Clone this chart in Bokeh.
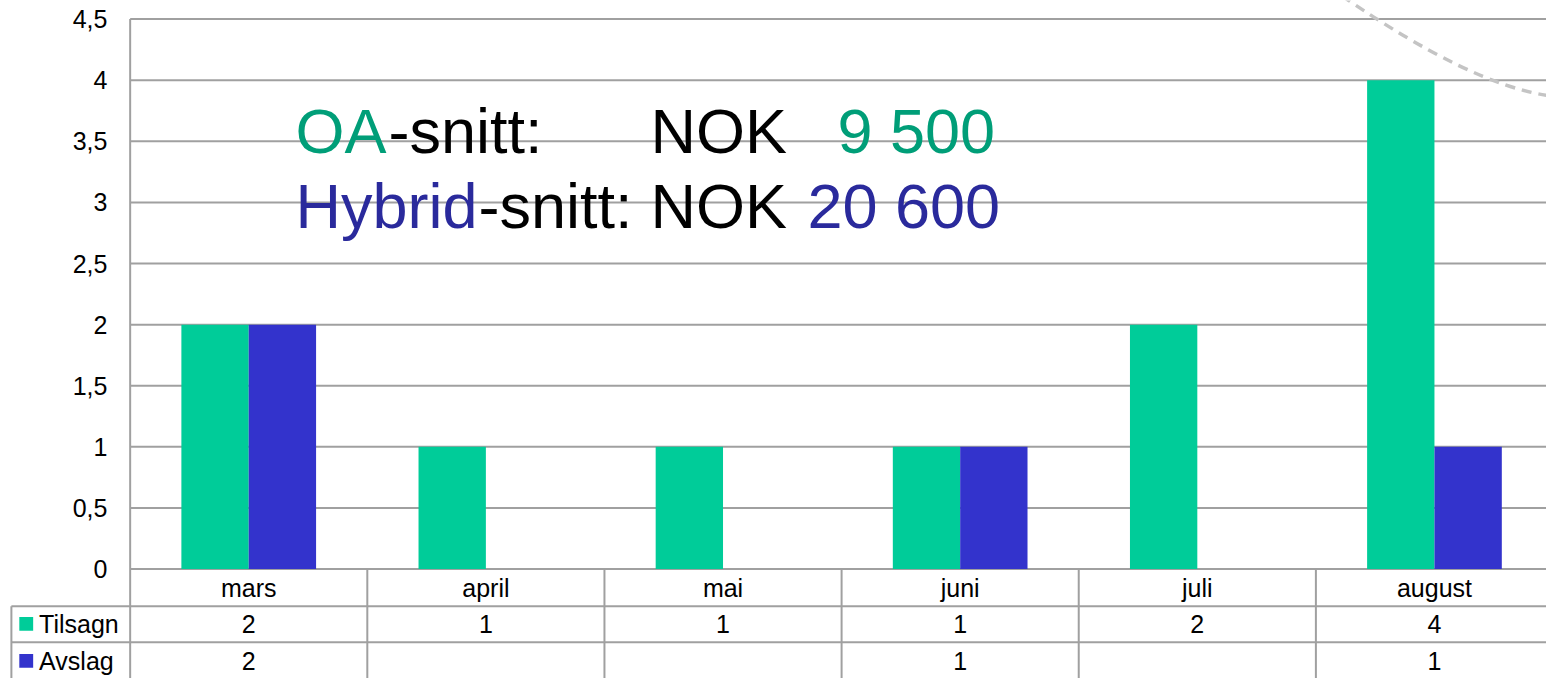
from bokeh.plotting import figure
from bokeh.models import ColumnDataSource, Label, Range1d
from bokeh.core.properties import value
from bokeh.embed import file_html
from bokeh.resources import INLINE

# ---- data ----
months = ["mars", "april", "mai", "juni", "juli", "august"]
tilsagn = [2, 1, 1, 1, 2, 4]
avslag = [2, None, None, 1, None, 1]
y_ticks = [0, 0.5, 1, 1.5, 2, 2.5, 3, 3.5, 4, 4.5]
y_tick_labels = ["0", "0,5", "1", "1,5", "2", "2,5", "3", "3,5", "4", "4,5"]
series_names = ["Tilsagn", "Avslag"]

GREEN = "#00CC99"
BLUE = "#3333CC"
TXT_GREEN = "#009E78"
TXT_BLUE = "#2A2A9C"
GRID = "#A0A0A0"
FONT = "Liberation Sans"
SMALL = "25px"

W, H = 1546, 678
SX = W / 1562
SY = H / 694

n = len(months)
centers = [i + 0.5 for i in range(n)]
bw = 0.284

PX_X = 239.6 * SX
PX_Y = (582 - 19) * SY / 4.5
x0_px = 131 * SX          # canvas x of category 0 edge
y0_px = 582 * SY          # canvas y of value 0


def cx(px):
    return (px * SX - x0_px) / PX_X


def cy(py):
    return (y0_px - py * SY) / PX_Y


x_start = -x0_px / PX_X
x_end = (W - x0_px) / PX_X
y_end = y0_px / PX_Y
y_start = y_end - H / PX_Y

p = figure(width=W, height=H, output_backend="svg", toolbar_location=None,
           x_range=Range1d(x_start, x_end), y_range=Range1d(y_start, y_end),
           x_axis_location=None, y_axis_location=None,
           min_border_left=0, min_border_right=0,
           min_border_top=0, min_border_bottom=0)
p.outline_line_color = None
p.grid.visible = False

# horizontal value grid
p.segment(x0=[0] * len(y_ticks), x1=[x_end] * len(y_ticks), y0=y_ticks, y1=y_ticks,
          line_color=GRID, line_width=2)
# y tick labels
p.text(x=[cx(108)] * len(y_ticks), y=y_ticks, text=y_tick_labels, text_align="right",
       text_baseline="middle", text_font=value(FONT), text_font_size=SMALL,
       text_color="black")

src = ColumnDataSource(dict(
    x=centers, months=months,
    avslag=[v if v is not None else float("nan") for v in avslag],
    t_lab=[str(v) for v in tilsagn],
    a_lab=[str(v) if v is not None else "" for v in avslag],
))

p.vbar(x=[c - bw / 2 for c in centers], top=tilsagn, width=bw, bottom=0,
       fill_color=GREEN, line_color=None)
p.vbar(x=[c + bw / 2 for c in centers], top=src.data["avslag"], width=bw, bottom=0,
       fill_color=BLUE, line_color=None)

# data table
row_cat = cy(601)
row_t = cy(638)
row_a = cy(676)
line_1 = cy(620)
line_2 = cy(657)
cell_left = cx(11)
p.segment(x0=[cell_left] * 2, x1=[x_end] * 2, y0=[line_1, line_2], y1=[line_1, line_2],
          line_color=GRID, line_width=2)
p.segment(x0=list(range(1, n + 1)), x1=list(range(1, n + 1)),
          y0=[0] * n, y1=[y_start] * n, line_color=GRID, line_width=2)
p.segment(x0=[0], x1=[0], y0=[4.5], y1=[y_start], line_color=GRID, line_width=2)
p.segment(x0=[cell_left], x1=[cell_left], y0=[line_1], y1=[y_start],
          line_color=GRID, line_width=2)

for col, yy in [("months", row_cat), ("t_lab", row_t), ("a_lab", row_a)]:
    p.text(x="x", y=yy, text=col, source=src, text_align="center",
           text_baseline="middle", text_font=value(FONT), text_font_size=SMALL,
           text_color="black")

# legend keys inside the table
sq_h = 7 * SY / PX_Y
rows = [row_t, row_a]
p.quad(left=[cx(19)] * 2, right=[cx(33)] * 2,
       top=[r + sq_h for r in rows], bottom=[r - sq_h for r in rows],
       fill_color=[GREEN, BLUE], line_color=None)
p.text(x=[cx(39)] * 2, y=rows, text=series_names, text_align="left",
       text_baseline="middle", text_font=value(FONT), text_font_size=SMALL,
       text_color="black")

# big overlay text
tx = cx(298)
segments = [
    (3.585, [("OA", 0, TXT_GREEN), ("-snitt:", 93, "black"), ("NOK", 355, "black"), ("9 500", 542, TXT_GREEN)]),
    (2.973, [("Hybrid", 0, TXT_BLUE), ("-snitt:", 183, "black"), ("NOK", 355, "black"), ("20 600", 512, TXT_BLUE)]),
]
for yb, parts in segments:
    for txt, off, col in parts:
        p.add_layout(Label(x=tx, y=yb, x_offset=off, text=txt, text_align="left",
                           text_baseline="alphabetic", text_font=FONT,
                           text_font_size="63px", text_color=col))

# decorative dashed arc (top right)
p.quadratic(x0=[cx(1355)], y0=[cy(-5)], x1=[cx(1562)], y1=[cy(97)],
            cx=[cx(1484)], cy=[cy(85)],
            line_color="#C4C4C4", line_width=3.5, line_dash="10 7")

open("out.html", "w").write(file_html(p, INLINE))
